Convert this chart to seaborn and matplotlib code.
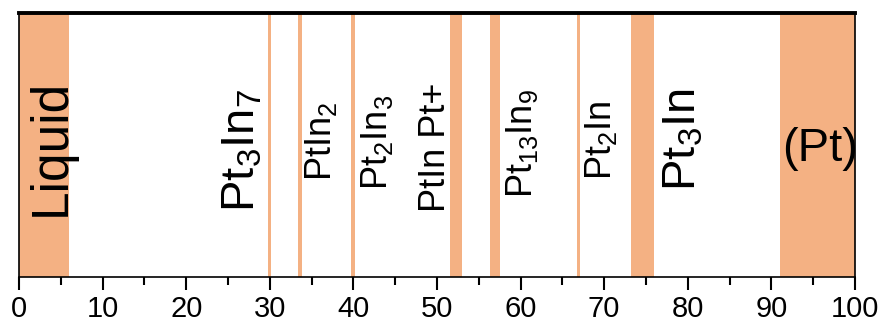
import matplotlib
matplotlib.use("Agg")
import matplotlib.pyplot as plt
import seaborn as sns

# Composition ranges (at.% Pt) of each phase field
phase_start = [0.0, 29.8, 33.4, 39.7, 51.6, 56.4, 66.8, 73.2, 91.0]
phase_end = [6.0, 30.2, 33.9, 40.15, 53.0, 57.6, 67.1, 76.0, 100.0]

# Phase labels and where they sit along the composition axis
label_text = ["Liquid", "Pt$_3$In$_7$", "PtIn$_2$", "Pt$_2$In$_3$", "PtIn Pt+",
              "Pt$_{13}$In$_9$", "Pt$_2$In", "Pt$_3$In", "(Pt)"]
label_x = [3.9, 26.7, 36.1, 42.8, 49.8, 60.2, 69.6, 79.5, 95.8]
label_y = [0.493, 0.482, 0.516, 0.509, 0.493, 0.505, 0.52, 0.52, 0.486]
label_size = [37, 34, 26, 26, 26, 26, 26, 34, 34]
label_rot = [90, 90, 90, 90, 90, 90, 90, 90, 0]

major_ticks = list(range(0, 101, 10))
minor_ticks = list(range(5, 100, 10))

sns.set_theme(style="ticks")
plt.rcParams["font.family"] = ["Liberation Sans", "DejaVu Sans"]
plt.rcParams["mathtext.default"] = "regular"

fig = plt.figure(figsize=(8.85, 3.27), dpi=100)
ax = fig.add_axes([0.0215, 0.153, 0.9445, 0.806])

fill = "#F4B183"
for a, b in zip(phase_start, phase_end):
    ax.axvspan(a, b, color=fill, lw=0, zorder=1)

for txt, x, y, size, rot in zip(label_text, label_x, label_y, label_size, label_rot):
    ax.text(x, y, txt, transform=ax.get_xaxis_transform(), rotation=rot,
            ha="center", va="center", fontsize=size,
            color="black", zorder=3, clip_on=False)

ax.set_xlim(0, 100)
ax.set_ylim(0, 1)
ax.set_xticks(major_ticks)
ax.set_xticks(minor_ticks, minor=True)
ax.set_yticks([])
ax.tick_params(axis="x", which="major", direction="out", length=9, width=1.5,
               labelsize=21, pad=4, color="black", labelcolor="black")
ax.tick_params(axis="x", which="minor", direction="out", length=5.5, width=1.5,
               color="black")

for side, sp in ax.spines.items():
    sp.set_visible(True)
    sp.set_color("black")
    sp.set_linewidth(1.2)
    sp.set_zorder(4)
ax.spines["top"].set_linewidth(2.8)

fig.savefig("out.png", dpi=100)
